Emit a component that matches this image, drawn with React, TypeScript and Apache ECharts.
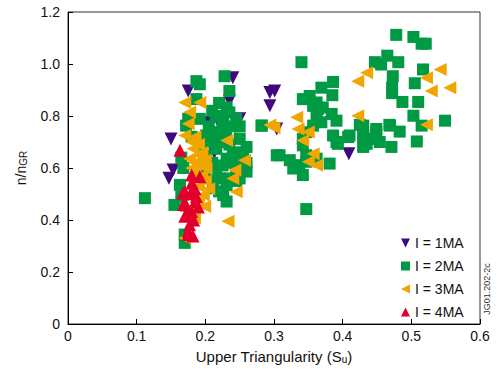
import React, { useEffect, useRef } from "react";
import * as echarts from "echarts";

const xTicks = [0, 0.1, 0.2, 0.3, 0.4, 0.5, 0.6];
const yTicks = [0, 0.2, 0.4, 0.6, 0.8, 1.0, 1.2];

const legendNames = ["I = 1MA", "I = 2MA", "I = 3MA", "I = 4MA"];

const i1MA: number[][] = [
  [0.24, 0.947], [0.175, 0.896], [0.235, 0.858], [0.209, 0.776], [0.218, 0.782],
  [0.25, 0.789], [0.2, 0.775], [0.15, 0.712], [0.153, 0.592], [0.147, 0.561],
  [0.294, 0.89], [0.301, 0.896], [0.294, 0.839], [0.304, 0.75], [0.409, 0.655],
  [0.213, 0.66],
];

const i2MA: number[][] = [
  [0.112, 0.484], [0.155, 0.458], [0.163, 0.535], [0.17, 0.344], [0.17, 0.312],
  [0.187, 0.934], [0.192, 0.922], [0.228, 0.953], [0.235, 0.896], [0.187, 0.865],
  [0.231, 0.833], [0.235, 0.814], [0.175, 0.789], [0.192, 0.789], [0.172, 0.763],
  [0.226, 0.789], [0.245, 0.789], [0.282, 0.763], [0.201, 0.725], [0.216, 0.738],
  [0.25, 0.712], [0.26, 0.681], [0.216, 0.674], [0.201, 0.649], [0.231, 0.636],
  [0.26, 0.586], [0.245, 0.598], [0.216, 0.586], [0.221, 0.56], [0.231, 0.535],
  [0.211, 0.522], [0.226, 0.496], [0.231, 0.471], [0.304, 0.649],
  [0.24, 0.76], [0.23, 0.73], [0.24, 0.66], [0.25, 0.64], [0.225, 0.61],
  [0.205, 0.7], [0.195, 0.68], [0.18, 0.72], [0.165, 0.64], [0.168, 0.6],
  [0.2, 0.6], [0.21, 0.56], [0.235, 0.56], [0.26, 0.62], [0.22, 0.85],
  [0.21, 0.82], [0.245, 0.55], [0.22, 0.51], [0.165, 0.49],
  [0.215, 0.8], [0.225, 0.76], [0.205, 0.76], [0.25, 0.76], [0.255, 0.66],
  [0.24, 0.62], [0.235, 0.69], [0.22, 0.7], [0.21, 0.62], [0.25, 0.56],
  [0.478, 1.112], [0.503, 1.104], [0.515, 1.078], [0.521, 1.078], [0.465, 1.032],
  [0.447, 1.007], [0.456, 0.998], [0.481, 1.007], [0.517, 0.979], [0.473, 0.953],
  [0.505, 0.926], [0.472, 0.909], [0.472, 0.888], [0.487, 0.854], [0.51, 0.854],
  [0.503, 0.801], [0.549, 0.782], [0.515, 0.763], [0.468, 0.766], [0.483, 0.74],
  [0.449, 0.738], [0.43, 0.763], [0.508, 0.702], [0.471, 0.681], [0.454, 0.7],
  [0.43, 0.687], [0.44, 0.712], [0.43, 0.725],
  [0.34, 1.007], [0.386, 0.931], [0.369, 0.909], [0.385, 0.88], [0.342, 0.865],
  [0.352, 0.877], [0.362, 0.852], [0.371, 0.833], [0.362, 0.801], [0.384, 0.808],
  [0.391, 0.782], [0.369, 0.776], [0.425, 0.766], [0.449, 0.75], [0.469, 0.763],
  [0.347, 0.738], [0.386, 0.725], [0.41, 0.725], [0.43, 0.719], [0.391, 0.7],
  [0.435, 0.693], [0.43, 0.681], [0.308, 0.649], [0.323, 0.63], [0.328, 0.598],
  [0.342, 0.573], [0.337, 0.611], [0.347, 0.624], [0.381, 0.617], [0.347, 0.442],
  [0.282, 0.763], [0.357, 0.839], [0.364, 0.827], [0.357, 0.763], [0.408, 0.719],
  [0.393, 0.693], [0.342, 0.712], [0.342, 0.687], [0.347, 0.649], [0.362, 0.636],
];

const i3MA: number[][] = [
  [0.17, 0.852], [0.192, 0.852], [0.177, 0.814], [0.175, 0.77], [0.17, 0.725],
  [0.231, 0.706], [0.294, 0.765], [0.182, 0.674], [0.177, 0.636], [0.194, 0.611],
  [0.257, 0.63], [0.243, 0.592], [0.24, 0.56], [0.245, 0.509], [0.197, 0.496],
  [0.199, 0.452], [0.184, 0.408], [0.233, 0.395], [0.17, 0.331], [0.177, 0.433],
  [0.201, 0.598], [0.18, 0.7], [0.19, 0.65], [0.185, 0.58], [0.19, 0.53],
  [0.2, 0.55], [0.185, 0.72], [0.19, 0.69], [0.195, 0.66], [0.185, 0.62],
  [0.195, 0.57], [0.18, 0.6], [0.2, 0.63], [0.205, 0.52], [0.19, 0.47],
  [0.435, 0.966], [0.422, 0.934], [0.333, 0.795], [0.422, 0.801], [0.3, 0.755],
  [0.335, 0.75], [0.35, 0.738], [0.342, 0.706], [0.357, 0.655], [0.35, 0.624],
  [0.362, 0.611], [0.522, 0.766], [0.542, 0.979], [0.522, 0.947], [0.529, 0.896],
  [0.556, 0.909],
];

const i4MA: number[][] = [
  [0.163, 0.668], [0.18, 0.573], [0.192, 0.566], [0.18, 0.541], [0.17, 0.509],
  [0.167, 0.503], [0.187, 0.49], [0.172, 0.458], [0.18, 0.433], [0.172, 0.42],
  [0.17, 0.414], [0.177, 0.382], [0.175, 0.357], [0.182, 0.338], [0.175, 0.344],
  [0.185, 0.47], [0.185, 0.52], [0.178, 0.5], [0.19, 0.45], [0.183, 0.4],
  [0.168, 0.46],
];

const FONT = "'Liberation Sans', Arial, Helvetica, sans-serif";

const fmt = (v: number) => (v === 0 ? "0" : v.toFixed(1));

export default function App() {
  const ref = useRef<HTMLDivElement>(null);
  useEffect(() => {
    if (!ref.current) return;
    const chart = echarts.init(ref.current, undefined, { renderer: "svg" });
    const downTri = "path://M0,0L10,0L5,10Z";
    const leftTri = "path://M10,0L10,10L0,5Z";
    const series = [
      { name: legendNames[0], data: i1MA, symbol: downTri, symbolSize: 13, color: "#41087e" },
      { name: legendNames[1], data: i2MA, symbol: "rect", symbolSize: 12, color: "#009a44" },
      { name: legendNames[2], data: i3MA, symbol: leftTri, symbolSize: 13, color: "#f0a600" },
      { name: legendNames[3], data: i4MA, symbol: "triangle", symbolSize: 13, color: "#e2002b" },
    ].map((s) => ({
      type: "scatter",
      name: s.name,
      data: s.data,
      symbol: s.symbol,
      symbolSize: s.symbolSize,
      itemStyle: { color: s.color, opacity: 1 },
      emphasis: { disabled: true },
    }));
    chart.setOption({
      animation: false,
      textStyle: { fontFamily: FONT },
      grid: {
        left: 68,
        right: 17,
        top: 12,
        bottom: 42,
        show: true,
        borderColor: "#333",
        borderWidth: 1,
        backgroundColor: "transparent",
      },
      legend: {
        orient: "vertical",
        left: 396,
        top: 231,
        itemWidth: 9,
        itemHeight: 9,
        itemGap: 9,
        data: legendNames,
        textStyle: { fontSize: 14, color: "#111", fontFamily: FONT },
        selectedMode: false,
      },
      xAxis: {
        type: "value",
        min: xTicks[0],
        max: xTicks[xTicks.length - 1],
        interval: 0.1,
        name: "Upper Triangularity (S{sub|u})",
        nameLocation: "middle",
        nameGap: 24,
        nameTextStyle: {
          fontSize: 15,
          color: "#111",
          fontFamily: FONT,
          rich: { sub: { fontSize: 10, verticalAlign: "bottom", padding: [6, 0, 0, 0], fontFamily: FONT, color: "#111" } },
        },
        axisLine: { lineStyle: { color: "#000", width: 1 } },
        axisTick: { inside: true, length: 5, lineStyle: { color: "#000" } },
        axisLabel: { fontSize: 14, color: "#111", margin: 5, formatter: fmt, fontFamily: FONT },
        splitLine: { show: false },
      },
      yAxis: {
        type: "value",
        min: yTicks[0],
        max: yTicks[yTicks.length - 1],
        interval: 0.2,
        name: "n/n{sub|GR}",
        nameLocation: "middle",
        nameGap: 40,
        nameRotate: 90,
        nameTextStyle: {
          fontSize: 14,
          color: "#111",
          fontFamily: FONT,
          rich: { sub: { fontSize: 10, verticalAlign: "bottom", padding: [5, 0, 0, 0], fontFamily: FONT, color: "#111" } },
        },
        axisLine: { lineStyle: { color: "#000", width: 1 } },
        axisTick: { inside: true, length: 5, lineStyle: { color: "#000" } },
        axisLabel: { fontSize: 14, color: "#111", margin: 8, formatter: fmt, fontFamily: FONT },
        splitLine: { show: false },
      },
      graphic: [
        {
          type: "text",
          x: 487,
          y: 289,
          rotation: Math.PI / 2,
          style: {
            text: "JG01.202-2c",
            fontSize: 9,
            fill: "#333",
            align: "center",
            verticalAlign: "middle",
            fontFamily: FONT,
          },
        },
      ],
      series,
    });
    return () => chart.dispose();
  }, []);
  return (
    <div
      ref={ref}
      style={{ position: "fixed", left: 0, top: 0, width: 497, height: 369, background: "#fff" }}
    />
  );
}
